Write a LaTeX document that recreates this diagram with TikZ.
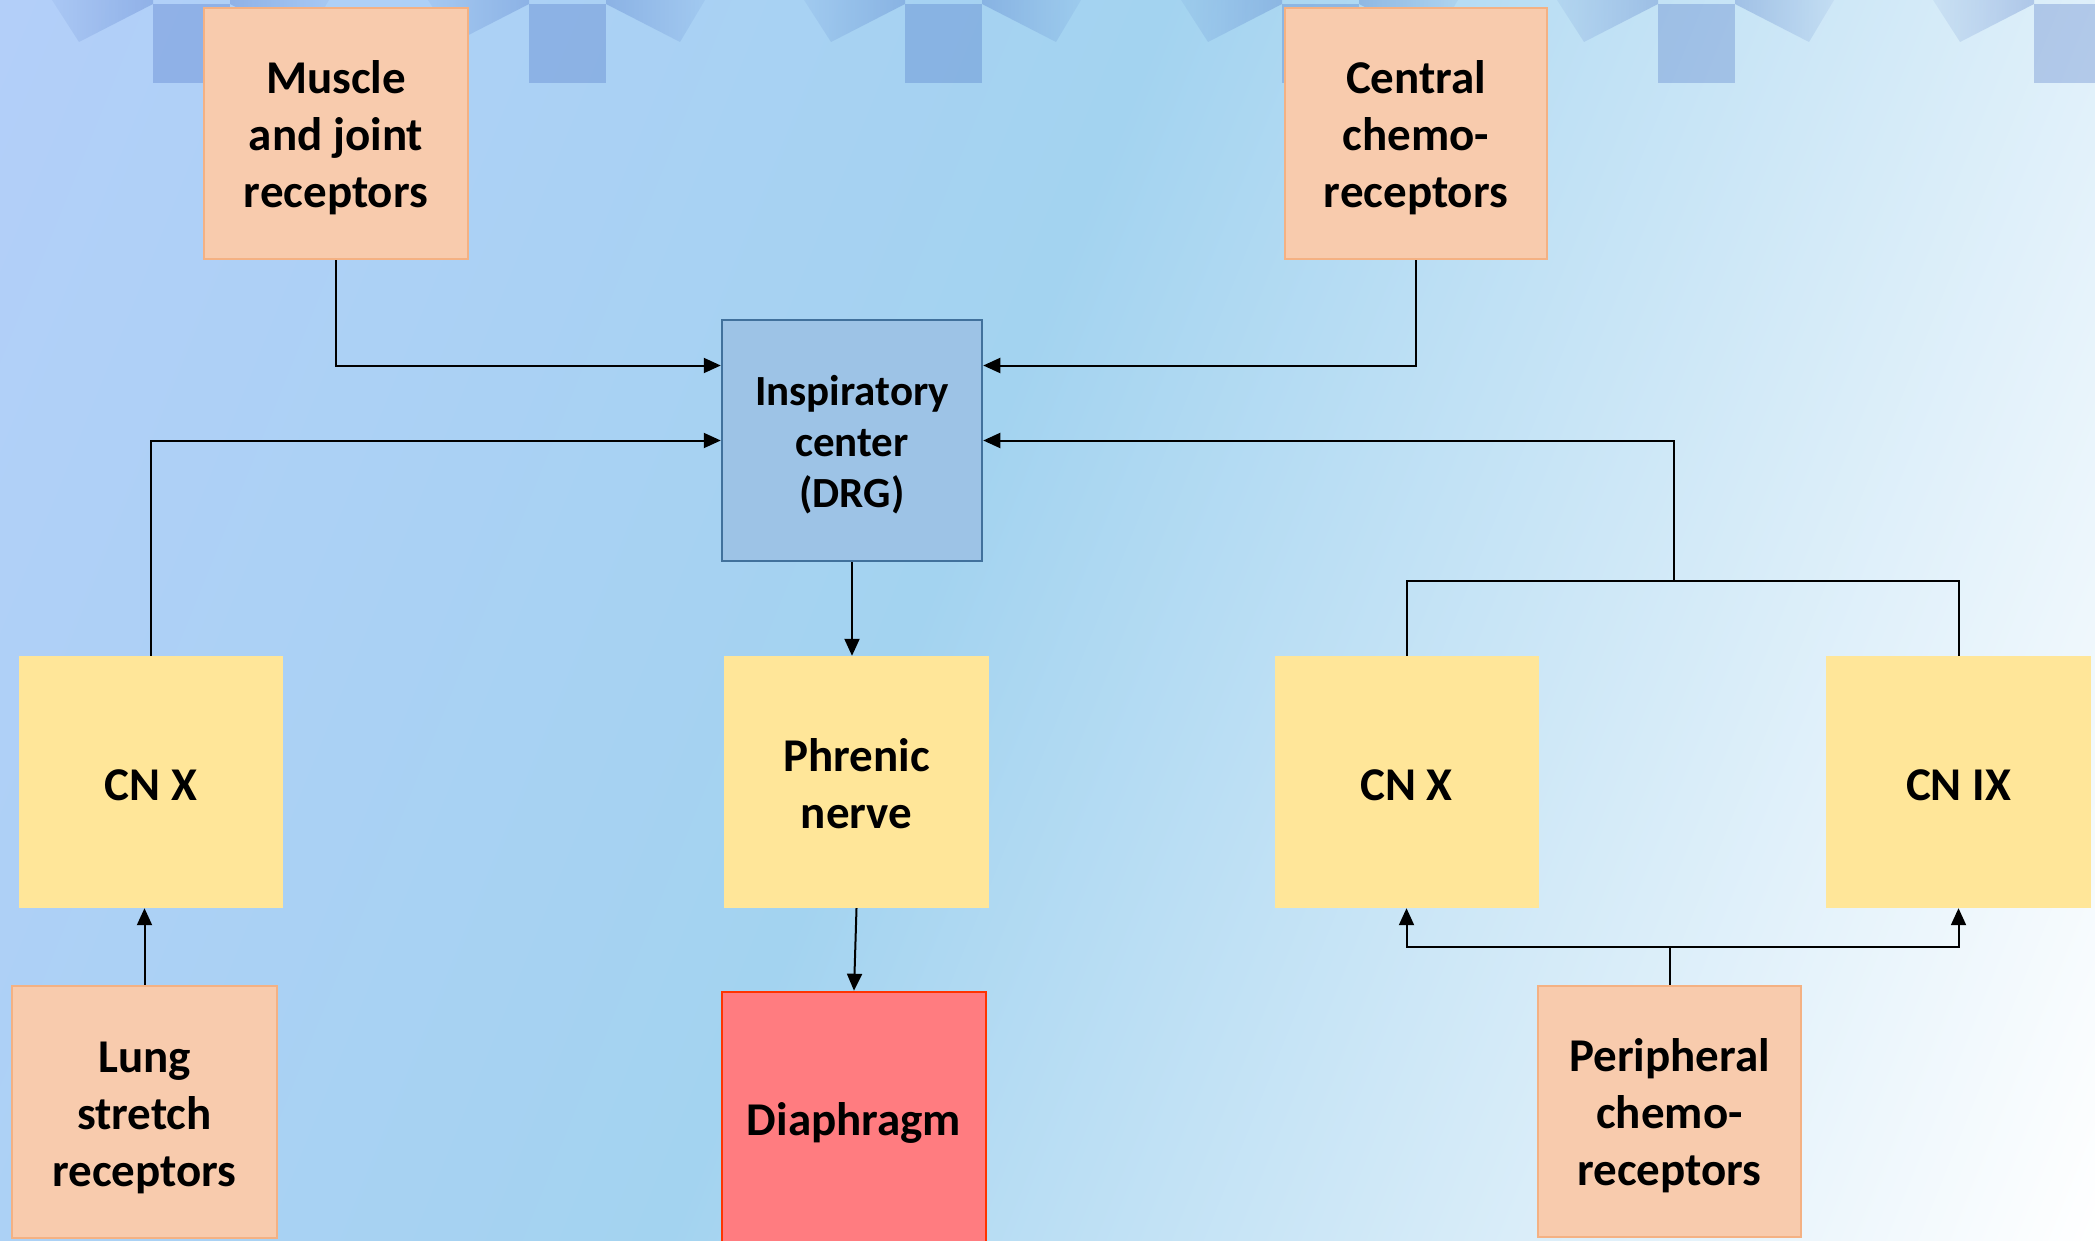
\documentclass[tikz,border=0pt]{standalone}
\usepackage{fontspec}
\setmainfont{Carlito}
\usetikzlibrary{arrows.meta,fadings}

% palette
\definecolor{bgA}{RGB}{179,207,249}
\definecolor{bgB}{RGB}{163,211,240}
\definecolor{decoBlue}{RGB}{60,100,190}
\definecolor{peachFill}{RGB}{248,203,173}
\definecolor{peachLine}{RGB}{244,177,131}
\definecolor{sandFill}{RGB}{255,230,153}
\definecolor{centerFill}{RGB}{157,195,230}
\definecolor{centerLine}{RGB}{65,113,156}
\definecolor{effFill}{RGB}{255,124,128}
\definecolor{effLine}{RGB}{255,51,0}

% diagonal backdrop: lavender blue -> sky blue -> white
\pgfdeclarehorizontalshading{backdrop}{100bp}{%
  color(0bp)=(bgA); color(25bp)=(bgA); color(47.5bp)=(bgB);
  color(75bp)=(white); color(100bp)=(white)}

% soft wings of the banner ornaments
\tikzfading[name=wingfadeleft, left color=transparent!75, right color=transparent!0]
\tikzfading[name=wingfaderight, left color=transparent!0, right color=transparent!75]

% invisible strut that sets the height of a label's first line
\newcommand\lift[1]{\rule{0pt}{#1pt}}

\tikzset{
  box/.style={rectangle, inner sep=0pt, align=center, text=black,
    font=\fontsize{47}{57}\selectfont\bfseries},
  sensor/.style={box, fill=peachFill, draw=peachLine, line width=2.5pt},
  nerve/.style={box, fill=sandFill},
  hub/.style={box, fill=centerFill, draw=centerLine, line width=2.5pt,
    font=\fontsize{43}{51}\selectfont\bfseries},
  effector/.style={box, fill=effFill, draw=effLine, line width=2.5pt},
  link/.style={line width=2pt, black},
  feed/.style={link, -{Triangle[length=17pt,width=15pt]}},
  ornament/.style={fill=decoBlue, fill opacity=0.28},
}

\begin{document}
\begin{tikzpicture}[x=1pt, y=-1pt]
\useasboundingbox (0,0) rectangle (2095,1241);

\begin{scope}
  \clip (0,0) rectangle (2095,1241);

  % background gradient
  \begin{scope}[transform canvas={rotate=-22}]
    \shade[shading=backdrop] (0,-1600) rectangle (2408,1600);
  \end{scope}

  % banner ornaments along the top edge
  \foreach \s in {153,529,905,1282,1658,2034} {
    \fill[ornament] (\s,4) rectangle ++(77,79);
    \fill[ornament, path fading=wingfadeleft]
      (\s-101,0) -- (\s-74,42) -- (\s,4) -- (\s,0) -- cycle;
    \fill[ornament, path fading=wingfaderight]
      (\s+77,0) -- (\s+77,4) -- (\s+151,42) -- (\s+176,0) -- cycle;
  }

  % boxes
  \node[sensor, minimum width=264pt, minimum height=251pt] (mus) at (336,133.5)
    {\lift{42}Muscle\\and joint\\receptors};
  \node[sensor, minimum width=262pt, minimum height=251pt] (cen) at (1416,133.5)
    {\lift{42}Central\\chemo-\\receptors};
  \node[hub, minimum width=260pt, minimum height=241pt] (insp) at (852,440.5)
    {\lift{38}Inspiratory\\center\\(DRG)};
  \node[nerve, minimum width=264pt, minimum height=252pt] (vagL) at (151,782)
    {\lift{37}CN X};
  \node[nerve, minimum width=265pt, minimum height=252pt] (phr) at (856.5,782)
    {\lift{36}Phrenic\\nerve};
  \node[nerve, minimum width=264pt, minimum height=252pt] (vagR) at (1406.5,782)
    {\lift{37}CN X};
  \node[nerve, minimum width=265pt, minimum height=252pt] (glos) at (1958.5,782)
    {\lift{37}CN IX};
  \node[sensor, minimum width=265pt, minimum height=252pt] (lung) at (144.5,1112)
    {\lift{42}Lung\\stretch\\receptors};
  \node[sensor, minimum width=263pt, minimum height=251pt] (peri) at (1669.5,1111.5)
    {\lift{42}Peripheral\\chemo-\\receptors};
  \node[effector, minimum width=264pt, minimum height=256pt] (dia) at (854,1120)
    {\lift{38}Diaphragm};

  % entry points on the inspiratory center
  \coordinate (inL1) at ([yshift=75pt]insp.west);
  \coordinate (inR1) at ([yshift=75pt]insp.east);
  \coordinate (inL2) at (insp.west);
  \coordinate (inR2) at (insp.east);
  \coordinate (rj) at (1674,581);
  \coordinate (pj) at (1669.5,947);

  % afferent pathways
  \draw[feed] (mus.south) |- (inL1);
  \draw[feed] (cen.south) |- (inR1);
  \draw[feed] (vagL.north) |- (inL2);
  \draw[link] (vagR.north) |- (rj) -| (glos.north);
  \draw[feed] (rj) |- (inR2);
  \draw[feed] (lung.north) -- (lung.north |- vagL.south);
  \draw[link] (peri.north) -- (pj);
  \draw[feed] (pj) -| (vagR.south);
  \draw[feed] (pj) -| (glos.south);

  % efferent pathway
  \draw[feed] (insp.south) -- (insp.south |- phr.north);
  \draw[feed] (phr.south) -- (dia.north);
\end{scope}
\end{tikzpicture}
\end{document}
